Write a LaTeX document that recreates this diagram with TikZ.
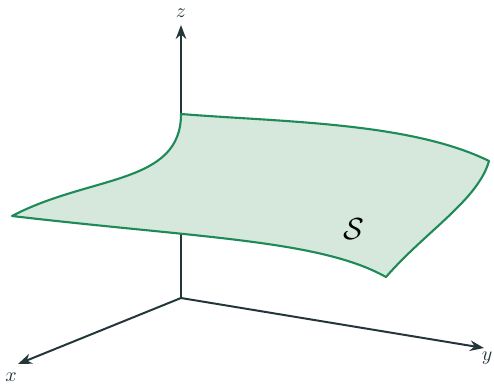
\documentclass[tikz,border=0pt]{standalone}
\usetikzlibrary{arrows.meta}
\definecolor{axiscol}{RGB}{36,54,58}
\definecolor{surfline}{RGB}{30,138,88}
\definecolor{surffill}{RGB}{214,232,220}
\begin{document}
\begin{tikzpicture}[
    x=0.03cm, y=-0.03cm,
    axis/.style={draw=axiscol, line width=1.7pt,
                 -{Stealth[length=12pt,width=9pt]}},
    axislabel/.style={scale=1.7, text=axiscol},
    surface/.style={draw=surfline, fill=surffill, line width=1.8pt,
                    line join=round}
]
\useasboundingbox (0,0) rectangle (494,387);

% --- AXES ---
\coordinate (O) at (181,298);
\coordinate (xtip) at (18,364);
\coordinate (ytip) at (484,348);
\coordinate (ztip) at (181,25);
\draw[axis] (O) -- (xtip);
\draw[axis] (O) -- (ytip);
\draw[axis] (O) -- (ztip);
\node[axislabel] (xlab) at (11,377) {$x$};
\node[axislabel] (ylab) at (487,358) {$y$};
\node[axislabel] (zlab) at (181,13) {$z$};

% --- SURFACE ---
\coordinate (A) at (181,114);
\coordinate (B) at (489,161);
\coordinate (C) at (386,277);
\coordinate (D) at (12,216);
\draw[surface] (A)
    .. controls (280,122) and (410,122) .. (B)
    .. controls (478,200) and (425,232) .. (C)
    .. controls (320,240) and (200,238) .. (D)
    .. controls (90,175) and (181,185) .. cycle;
\node[scale=2.6] (S) at (354,229) {$\mathcal{S}$};

\end{tikzpicture}
\end{document}
